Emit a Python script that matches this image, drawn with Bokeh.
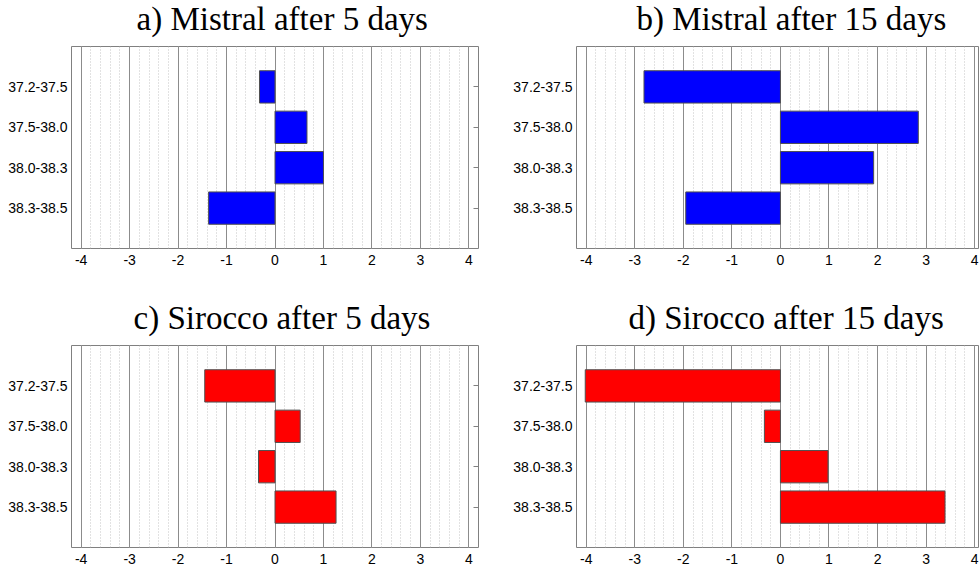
from bokeh.plotting import figure
from bokeh.models import FactorRange, Range1d, FixedTicker, CategoricalAxis, ColumnDataSource, CustomLabelingPolicy
from bokeh.layouts import column, row
from bokeh.embed import file_html
from bokeh.resources import INLINE

categories = ["37.2-37.5", "37.5-38.0", "38.0-38.3", "38.3-38.5"]
mistral_5 = [-0.32, 0.66, 1.0, -1.37]
mistral_15 = [-2.81, 2.84, 1.92, -1.95]
sirocco_5 = [-1.45, 0.52, -0.34, 1.26]
sirocco_15 = [-4.02, -0.33, 0.98, 3.39]
x_ticks = [-4, -3, -2, -1, 0, 1, 2, 3, 4]
x_tick_labels = ["-4", "-3", "-2", "-1", "0", "1", "2", "3", "4"]
titles = ["a) Mistral after 5 days", "b) Mistral after 15 days",
          "c) Sirocco after 5 days", "d) Sirocco after 15 days"]

minor = [round(-4.2 + 0.2 * i, 1) for i in range(43)]


def panel(title, vals, color, width, height, left, right, top, bottom, xend, right_ticks, toff):
    src = ColumnDataSource(dict(cat=categories, val=vals))
    p = figure(width=width, height=height,
               y_range=FactorRange(factors=list(reversed(categories)),
                                   range_padding=0.5, range_padding_units="absolute"),
               x_range=Range1d(-4.2, xend),
               output_backend="svg", toolbar_location=None,
               min_border_left=left, min_border_right=right,
               min_border_top=top, min_border_bottom=bottom, title=title)
    p.hbar(y="cat", left=0, right="val", height=0.8, source=src,
           fill_color=color, line_color="#505050", line_width=1)
    p.title.text_font = "Liberation Serif"
    p.title.text_font_size = "33px"
    p.title.text_font_style = "normal"
    p.title.align = "left"
    p.title.offset = toff
    p.title.text_color = "black"
    p.title.standoff = 19
    p.outline_line_color = "#808080"
    p.outline_line_width = 1
    tk = FixedTicker(ticks=x_ticks, minor_ticks=minor)
    p.xaxis.ticker = tk
    p.xgrid.ticker = tk
    p.xaxis.major_label_overrides = {t: l for t, l in zip(x_ticks, x_tick_labels)}
    p.xaxis.axis_line_color = None
    p.xaxis.major_tick_line_color = None
    p.xaxis.minor_tick_line_color = None
    p.xaxis.major_tick_out = 0
    p.xaxis.major_tick_in = 0
    p.xaxis.minor_tick_out = 0
    p.xaxis.major_label_standoff = 6
    p.xaxis.major_label_text_font = "Liberation Sans"
    p.xaxis.major_label_text_font_size = "14px"
    p.xaxis.major_label_text_color = "black"
    p.xgrid.grid_line_color = "#8c8c8c"
    p.xgrid.grid_line_width = 1
    p.xgrid.minor_grid_line_color = "#c4c4c4"
    p.xgrid.minor_grid_line_dash = "1 2"
    p.xgrid.minor_grid_line_width = 1
    p.ygrid.grid_line_color = None
    p.yaxis.axis_line_color = None
    p.yaxis.major_tick_line_color = None
    p.yaxis.major_tick_out = 0
    p.yaxis.major_tick_in = 0
    p.yaxis.major_label_standoff = 4
    p.yaxis.major_label_text_font = "Liberation Sans"
    p.yaxis.major_label_text_font_size = "14px"
    p.yaxis.major_label_text_color = "black"
    if right_ticks:
        ax = CategoricalAxis(major_label_standoff=0, major_label_text_font_size="0px",
                             major_tick_in=5, major_tick_out=0,
                             major_tick_line_color="#808080", axis_line_color=None,
                             major_label_policy=CustomLabelingPolicy(code="return []"))
        p.add_layout(ax, "right")
    p.background_fill_color = "white"
    p.border_fill_color = None
    return p


pa = panel(titles[0], mistral_5, "#0000ff", 490, 299, 71, 12, 60, 37, 4.2, True, 65)
pb = panel(titles[1], mistral_15, "#0000ff", 489, 299, 86, 0, 60, 37, 4.1, False, 60)
pc = panel(titles[2], sirocco_5, "#ff0000", 490, 286, 71, 12, 60, 24, 4.2, True, 62)
pd = panel(titles[3], sirocco_15, "#ff0000", 489, 286, 86, 0, 60, 24, 4.1, False, 52)

layout = column(row(pa, pb), row(pc, pd), margin=(-14, 0, 0, 0))
open("out.html", "w").write(file_html(layout, INLINE))
